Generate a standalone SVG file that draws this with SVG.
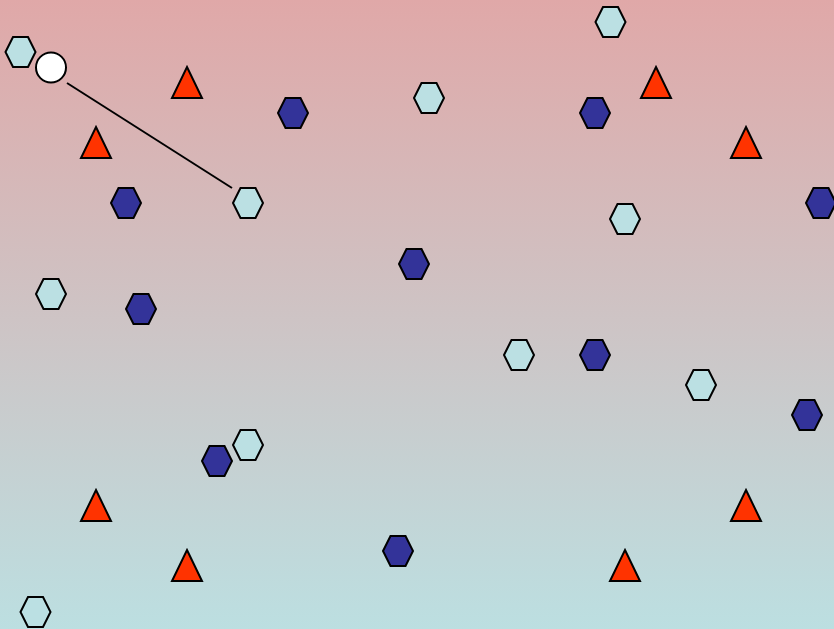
<svg xmlns="http://www.w3.org/2000/svg" width="834" height="629" viewBox="0 0 834 629">
<defs>
<linearGradient id="bg" x1="0" y1="0" x2="0" y2="1">
<stop offset="0" stop-color="#e0a8a8"/>
<stop offset="1" stop-color="#bcdfe1"/>
</linearGradient>
<polygon id="hex" points="-15,0 -7.5,-15 7.5,-15 15,0 7.5,15 -7.5,15"/>
<polygon id="tri" points="0,-16 15,15 -15,15"/>
</defs>
<style>
.lh{fill:#bbe0e3;stroke:#000;stroke-width:2}
.dh{fill:#333399;stroke:#000;stroke-width:2}
.tr{fill:#ff3300;stroke:#000;stroke-width:2;stroke-linejoin:miter}
.ci{fill:#fff;stroke:#000;stroke-width:2}
.ln{stroke:#000;stroke-width:2;fill:none}
</style>
<rect width="834" height="629" fill="url(#bg)"/>
<g id="connectors">
<line class="ln" x1="67" y1="83" x2="232" y2="188"/>
</g>
<g id="n-circle"><circle class="ci" cx="51" cy="67.5" r="15"/></g>
<g id="lh1"><use href="#hex" class="lh" x="20.5" y="52"/></g>
<g id="lh2"><use href="#hex" class="lh" x="610.5" y="22"/></g>
<g id="lh3"><use href="#hex" class="lh" x="429" y="98"/></g>
<g id="lh4"><use href="#hex" class="lh" x="248" y="203"/></g>
<g id="lh5"><use href="#hex" class="lh" x="625" y="219"/></g>
<g id="lh6"><use href="#hex" class="lh" x="51" y="294"/></g>
<g id="lh7"><use href="#hex" class="lh" x="519" y="355"/></g>
<g id="lh8"><use href="#hex" class="lh" x="701" y="385"/></g>
<g id="lh9"><use href="#hex" class="lh" x="248" y="445"/></g>
<g id="lh10"><use href="#hex" class="lh" x="35.5" y="612"/></g>
<g id="dh1"><use href="#hex" class="dh" x="293" y="113"/></g>
<g id="dh2"><use href="#hex" class="dh" x="595" y="113"/></g>
<g id="dh3"><use href="#hex" class="dh" x="126" y="203"/></g>
<g id="dh4"><use href="#hex" class="dh" x="821" y="203"/></g>
<g id="dh5"><use href="#hex" class="dh" x="414" y="264"/></g>
<g id="dh6"><use href="#hex" class="dh" x="141" y="309"/></g>
<g id="dh7"><use href="#hex" class="dh" x="595" y="355"/></g>
<g id="dh8"><use href="#hex" class="dh" x="807" y="415"/></g>
<g id="dh9"><use href="#hex" class="dh" x="217" y="461"/></g>
<g id="dh10"><use href="#hex" class="dh" x="398" y="551"/></g>
<g id="t1"><use href="#tri" class="tr" x="187" y="83"/></g>
<g id="t2"><use href="#tri" class="tr" x="656" y="83"/></g>
<g id="t3"><use href="#tri" class="tr" x="96" y="143"/></g>
<g id="t4"><use href="#tri" class="tr" x="746" y="143"/></g>
<g id="t5"><use href="#tri" class="tr" x="96" y="506"/></g>
<g id="t6"><use href="#tri" class="tr" x="746" y="506"/></g>
<g id="t7"><use href="#tri" class="tr" x="187" y="566"/></g>
<g id="t8"><use href="#tri" class="tr" x="625" y="566"/></g>
</svg>
